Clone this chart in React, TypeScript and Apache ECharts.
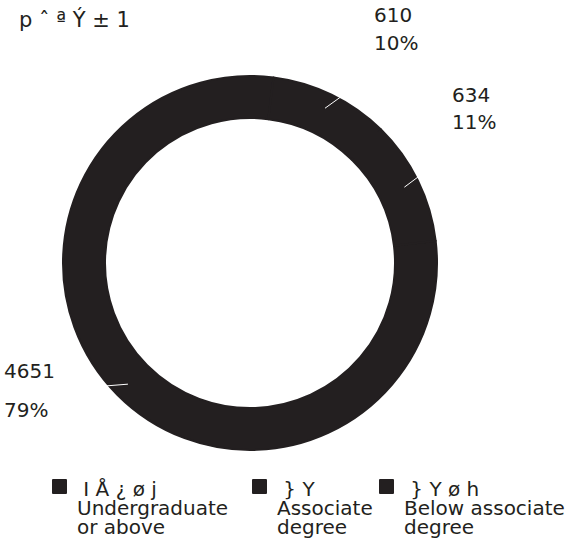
import React, { useEffect, useRef } from 'react';
import * as echarts from 'echarts';

const titleText = 'p ˆ ª Ý ± 1';
const categories = ['Undergraduate or above', 'Associate degree', 'Below associate degree'];
const legendLines = [
  [' I Å ¿ ø j', 'Undergraduate', 'or above'],
  [' } Y', 'Associate', 'degree'],
  [' } Y ø h', 'Below associate', 'degree'],
];
const values = [4651, 610, 634];

const INK = '#231f20';
const FONT = '"DejaVu Sans", Verdana, sans-serif';

const CENTER = [250, 263];
const START = 6.8;
const labelPos = [
  { x: 4, y: 351, align: 'left', verticalAlign: 'top' },
  { x: 374, y: 1, align: 'left', verticalAlign: 'top' },
  { x: 452, y: 81, align: 'left', verticalAlign: 'top' },
];
const labelLineHeights = [39, 28, 27];
const legendLefts = [52, 252, 379];

export default function App() {
  const ref = useRef<HTMLDivElement>(null);
  useEffect(() => {
    if (!ref.current) return;
    const chart = echarts.init(ref.current, undefined, { renderer: 'svg' });
    const items = values.map((v, i) => ({ name: categories[i], value: v }));
    chart.setOption({
      animation: false,
      backgroundColor: '#ffffff',
      title: {
        text: titleText,
        left: 14,
        top: 4,
        textStyle: { fontSize: 21, fontWeight: 'normal', color: INK, fontFamily: FONT },
      },
      legend: legendLines.map((lines, i) => ({
        data: [categories[i]],
        left: legendLefts[i],
        top: 437,
        padding: 0,
        icon: 'rect',
        itemWidth: 13,
        itemHeight: 13,
        selectedMode: false,
        formatter: () => '{e| }\n{e| }\n' + lines.join('\n'),
        textStyle: {
          fontSize: 20,
          lineHeight: 19,
          color: INK,
          fontFamily: FONT,
          padding: [0, 0, 0, 6],
          rich: {
            e: { fontSize: 20, lineHeight: 21, fontFamily: FONT, color: INK },
          },
        },
      })),
      series: [
        {
          type: 'pie',
          name: 'ring',
          z: 1,
          radius: [145, 187],
          center: CENTER,
          startAngle: START,
          silent: true,
          label: { show: false },
          labelLine: { show: false },
          itemStyle: { color: INK, borderColor: INK, borderWidth: 2 },
          data: items,
        },
        {
          type: 'pie',
          name: 'labels',
          z: 5,
          radius: [144, 172],
          center: CENTER,
          startAngle: START,
          silent: true,
          avoidLabelOverlap: false,
          percentPrecision: 0,
          itemStyle: { color: 'rgba(0,0,0,0)', borderWidth: 0 },
          label: {
            show: true,
            position: 'outside',
            formatter: '{c}\n{d}%',
            fontSize: 20,
            color: INK,
            fontFamily: FONT,
          },
          labelLine: {
            show: true,
            length: 10,
            length2: 0,
            lineStyle: { color: '#ffffff', width: 1 },
          },
          labelLayout: (p: any) => labelPos[p.dataIndex],
          data: items.map((it, i) => ({ ...it, label: { lineHeight: labelLineHeights[i] } })),
        },
      ],
    });
    return () => chart.dispose();
  }, []);
  return (
    <div
      ref={ref}
      style={{ position: 'fixed', left: 0, top: 0, width: 569, height: 542, background: '#fff' }}
    />
  );
}
